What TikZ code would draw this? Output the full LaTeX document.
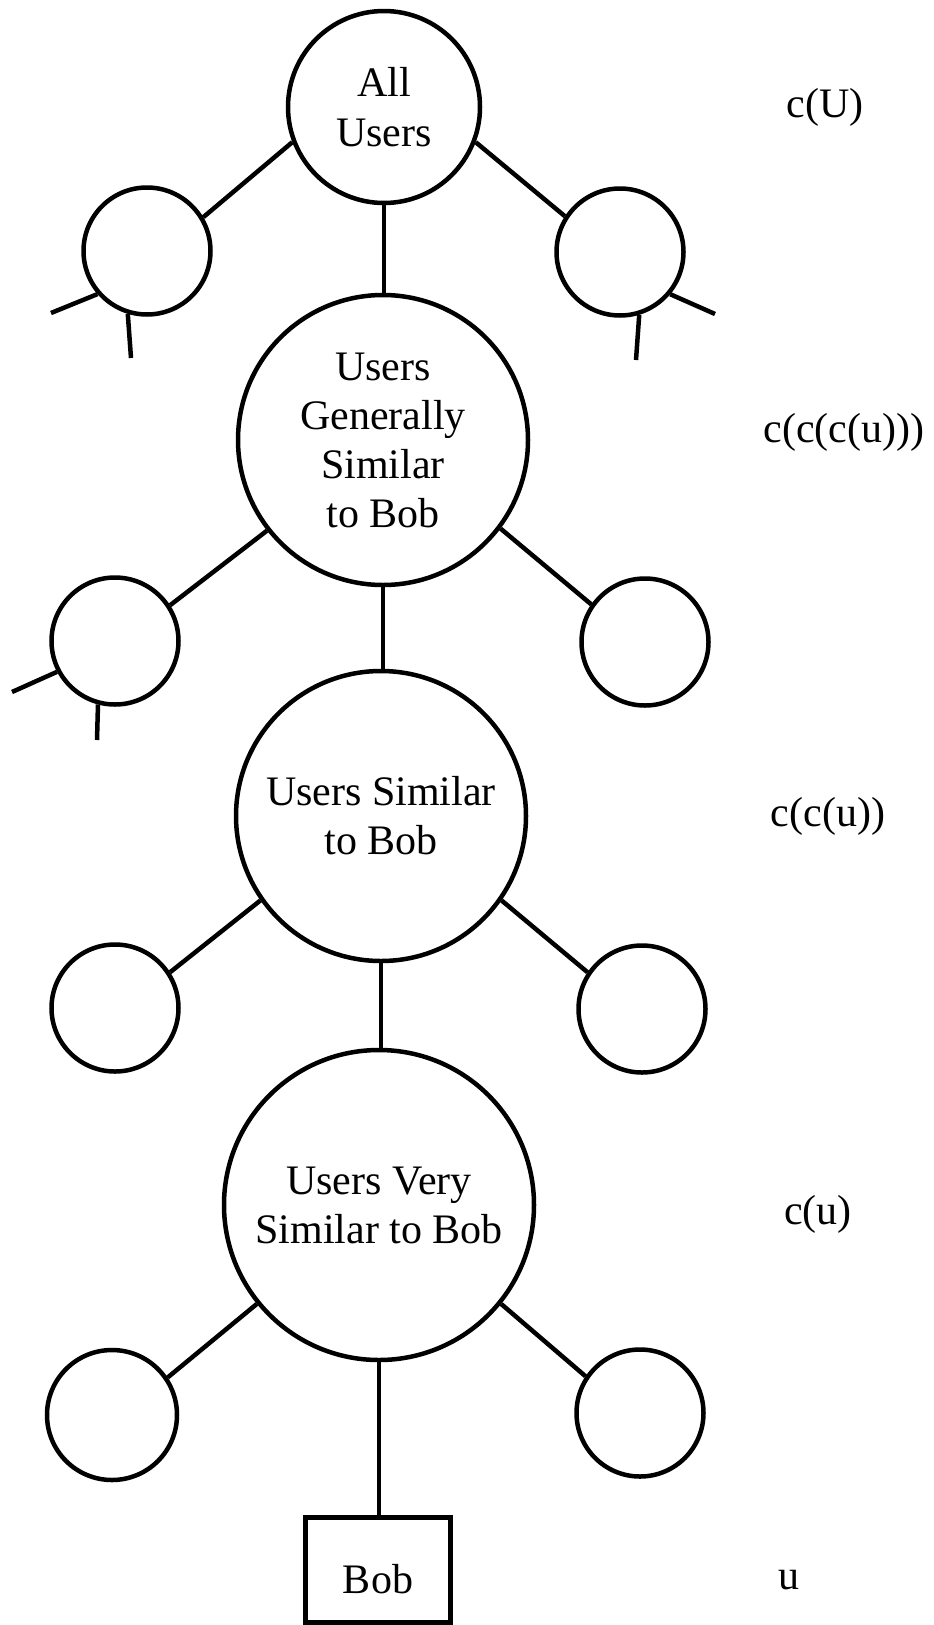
\documentclass[tikz,border=0pt]{standalone}
\usepackage{fontspec}
\setmainfont{Liberation Serif}
\begin{document}
\begin{tikzpicture}[x=1pt,y=-1pt,
  big/.style={circle, draw, line width=4.5pt, inner sep=0pt, align=center, font=\fontsize{42}{49}\selectfont},
  small/.style={circle, draw, line width=4.5pt, inner sep=0pt, minimum size=127pt},
  lab/.style={font=\fontsize{42}{49}\selectfont},
  bobbox/.style={rectangle, draw, line width=5pt, inner sep=0pt, minimum width=145pt, minimum height=105pt, text height=48pt, text depth=0pt, font=\fontsize{42}{49}\selectfont},
  conn/.style={line width=4.5pt}]
\useasboundingbox (0,0) rectangle (934,1625);
% main chain
\node[big, minimum size=192pt, font=\fontsize{42}{50}\selectfont] (c1) at (384,107) {All\\Users};
\node[big, minimum size=290pt] (c2) at (383,440) {Users\\Generally\\Similar\\to Bob};
\node[big, minimum size=290pt] (c3) at (381,816) {Users Similar\\to Bob};
\node[big, minimum size=310pt] (c4) at (379,1205) {Users Very\\Similar to Bob};
\node[bobbox] (bob) at (378,1569.5) {Bob};
% side circles
\node[small] (l1) at (147,251) {};
\node[small] (r1) at (620,252) {};
\node[small] (l2) at (115,641) {};
\node[small] (r2) at (645,642) {};
\node[small] (l3) at (115,1008) {};
\node[small] (r3) at (642,1009) {};
\node[small, minimum size=130pt] (l4) at (112,1415) {};
\node[small] (r4) at (640,1413) {};
% stub ends
\coordinate (s1a) at (51,313);
\coordinate (s1b) at (131,358);
\coordinate (s2a) at (715,314);
\coordinate (s2b) at (636,360);
\coordinate (s3a) at (12,692);
\coordinate (s3b) at (97,740);
% connectors
\draw[conn] (c1.201) -- (l1.31);
\draw[conn] (c1.339) -- (r1.147);
\draw[conn] (c1.south) -- (c1.south |- c2.north);
\draw[conn] (l1.221) -- (s1a);
\draw[conn] (l1.253) -- (s1b);
\draw[conn] (r1.320) -- (s2a);
\draw[conn] (r1.287) -- (s2b);
\draw[conn] (c2.218) -- (l2.33);
\draw[conn] (c2.323) -- (r2.145);
\draw[conn] (c2.south) -- (c2.south |- c3.north);
\draw[conn] (l2.208) -- (s3a);
\draw[conn] (l2.255) -- (s3b);
\draw[conn] (c3.215) -- (l3.33);
\draw[conn] (c3.325) -- (r3.146);
\draw[conn] (c3.south) -- (c3.south |- c4.north);
\draw[conn] (c4.219) -- (l4.34);
\draw[conn] (c4.321) -- (r4.146);
\draw[conn] (c4.south) -- (c4.south |- bob.north);
% level labels
\node[lab] (lU) at (825,107) {c(U)};
\node[lab] (lccc) at (844,432) {c(c(c(u)))};
\node[lab] (lcc) at (828,816) {c(c(u))};
\node[lab] (lc) at (818,1214) {c(u)};
\node[lab] (lu) at (789,1580) {u};
\end{tikzpicture}
\end{document}
